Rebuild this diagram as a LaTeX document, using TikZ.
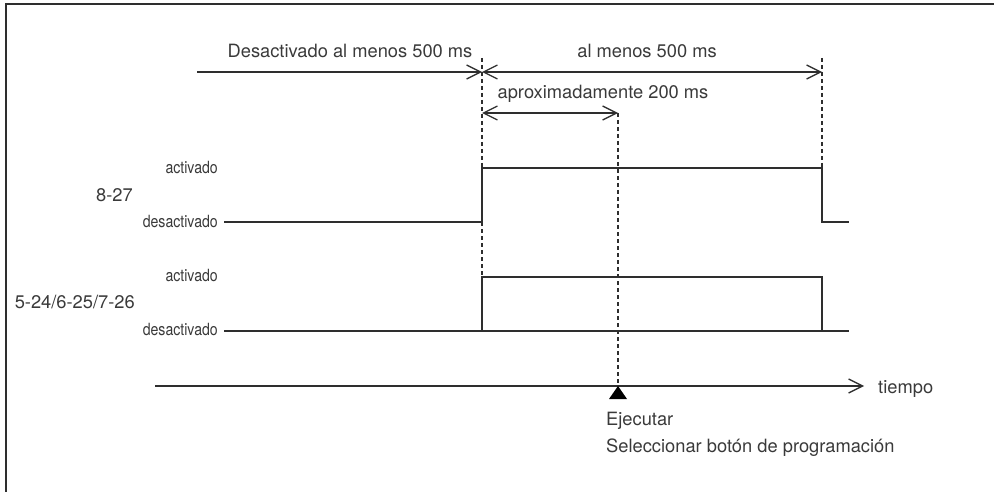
\documentclass[tikz,border=0pt]{standalone}
\usepackage{fontspec}
\setmainfont{TeX Gyre Heros}
\newfontfamily\condfont[FakeStretch=0.84]{TeX Gyre Heros}
\usetikzlibrary{arrows.meta}
\definecolor{ink}{HTML}{2E2E2E}
\definecolor{txt}{HTML}{3A3A3A}
\begin{document}
\begin{tikzpicture}[x=1pt,y=-1pt,
  barb/.tip={Straight Barb[length=14pt,width=14pt,line width=1.3pt]},
  sig/.style={draw=ink, line width=1.8pt},
  dimline/.style={draw=ink, line width=1.6pt},
  guide/.style={draw=ink, line width=1.4pt, dash pattern=on 4pt off 3pt},
  lbl/.style={text=txt, font=\fontsize{18.3}{20}\selectfont, inner sep=0pt},
  lvl/.style={text=txt, font=\condfont\fontsize{16.8}{18}\selectfont, inner sep=0pt, anchor=base east}]
\useasboundingbox (0,0) rectangle (994,492);
% frame (cropped at right and bottom)
\draw[ink, line width=2pt] (6,492) -- (6,4.5) -- (994,4.5);

% key coordinates
\coordinate (dL) at (197,72);
\coordinate (d1) at (482,72);
\coordinate (d3) at (822,72);
\coordinate (s1) at (482,113);
\coordinate (s2) at (618,113);
\coordinate (ax0) at (155,386);
\coordinate (ax1) at (864,386);
\coordinate (mark) at (618,386);

% dimension arrows
\draw[dimline, -{barb}] (dL) -- (d1);
\draw[dimline, {barb}-{barb}] (d1) -- (d3);
\draw[dimline, {barb}-{barb}] (s1) -- (s2);

% guide lines
\draw[guide] (482,58) -- (482,168);
\draw[guide] (482,222) -- (482,277);
\draw[guide] (822,58) -- (822,168);
\draw[guide] (s2) -- (mark);

% signal 8-27
\draw[sig] (224,222) -- (482,222) -- (482,168) -- (822,168) -- (822,222) -- (849,222);
% signal 5-24/6-25/7-26
\draw[sig] (224,331) -- (849,331);
\draw[sig] (482,331) -- (482,277) -- (822,277) -- (822,331);

% time axis
\draw[dimline, -{barb}] (ax0) -- (ax1);
\fill[black] (mark) -- (627,399) -- (609,399) -- cycle;

% texts
\node[lbl, anchor=base] (tdes) at (350,58) {Desactivado al menos 500 ms};
\node[lbl, anchor=base] (tmin) at (647,58) {al menos 500 ms};
\node[lbl, anchor=base] (tapr) at (603,99) {aproximadamente 200 ms};
\node[lvl] (a1) at (218,174) {activado};
\node[lvl] (d1l) at (218,228) {desactivado};
\node[lvl] (a2) at (218,281) {activado};
\node[lvl] (d2l) at (218,335) {desactivado};
\node[lbl, anchor=base east] (n1) at (133,201) {8-27};
\node[lbl, anchor=base east] (n2) at (135,308) {5-24/6-25/7-26};
\node[lbl, anchor=base west] (tiem) at (878,393) {tiempo};
\node[lbl, anchor=base west] (ejec) at (606,425) {Ejecutar};
\node[lbl, anchor=base west] (selp) at (606,452) {Seleccionar botón de programación};
\end{tikzpicture}
\end{document}
